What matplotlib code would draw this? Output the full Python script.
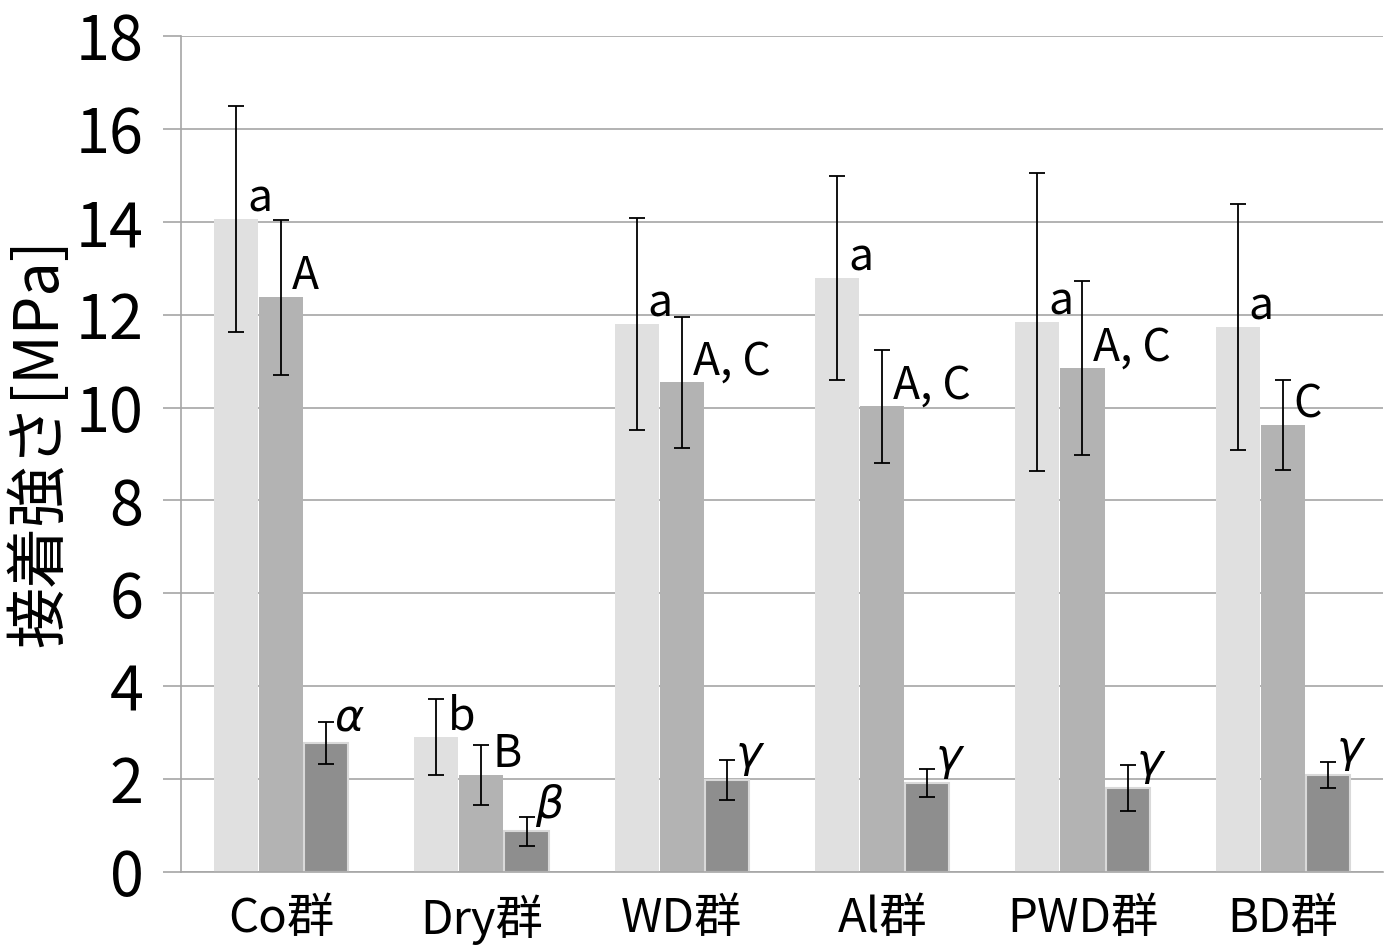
import matplotlib
matplotlib.use("Agg")
import matplotlib.pyplot as plt
import numpy as np

groups = ['Co群', 'Dry群', 'WD群', 'Al群', 'PWD群', 'BD群']
s1_vals = [14.06, 2.91, 11.80, 12.79, 11.84, 11.74]
s1_errs = [2.43, 0.82, 2.29, 2.20, 3.21, 2.65]
s2_vals = [12.38, 2.09, 10.55, 10.03, 10.85, 9.63]
s2_errs = [1.67, 0.65, 1.41, 1.22, 1.88, 0.97]
s3_vals = [2.78, 0.88, 1.98, 1.92, 1.81, 2.09]
s3_errs = [0.46, 0.31, 0.43, 0.30, 0.50, 0.28]
s1_labels = ['a', 'b', 'a', 'a', 'a', 'a']
s2_labels = ['A', 'B', 'A, C', 'A, C', 'A, C', 'C']
s3_labels = [r'$\alpha$', r'$\beta$', r'$\gamma$', r'$\gamma$', r'$\gamma$', r'$\gamma$']
yticks = [0, 2, 4, 6, 8, 10, 12, 14, 16, 18]
ylabel = '接着強さ[MPa]'

FAM = ['Noto Sans CJK JP', 'DejaVu Sans']
plt.rcParams['font.family'] = FAM
plt.rcParams['mathtext.fontset'] = 'dejavusans'

fig = plt.figure(figsize=(13.94, 9.49), dpi=100)
ax = fig.add_axes([0.1298, 0.0811, 0.8623, 0.8809])

x = np.arange(len(groups))
w = 0.22
colors = ['#e0e0e0', '#b3b3b3', '#8e8e8e']
series = [(s1_vals, s1_errs, s1_labels), (s2_vals, s2_errs, s2_labels), (s3_vals, s3_errs, s3_labels)]
offsets = [-0.225, 0.0, 0.225]
for i, ((vals, errs, labs), off) in enumerate(zip(series, offsets)):
    ec = '#d9d9d9' if i == 2 else 'none'
    ax.bar(x + off, vals, width=w, color=colors[i], edgecolor=ec, linewidth=1.5, zorder=2)
    ax.errorbar(x + off, vals, yerr=errs, fmt='none', ecolor='black', elinewidth=1.3,
                capsize=5.6, capthick=1.3, zorder=3)
    for xi, v, lab in zip(x + off, vals, labs):
        if i == 2:
            ax.text(xi + 0.04, v + 0.05, lab, fontsize=32, ha='left', va='bottom', zorder=4)
        else:
            ax.text(xi + 0.055, v - 0.05, lab, fontsize=32, ha='left', va='bottom', zorder=4)

ax.set_xlim(-0.5, len(groups) - 0.5)
ax.set_ylim(0, 18)
ax.set_yticks(yticks)
ax.set_yticklabels([str(t) for t in yticks], fontsize=44)
ax.set_xticks(x)
ax.set_xticklabels(groups, fontsize=34)
ax.yaxis.grid(True, color='#a6a6a6', linewidth=1.2, zorder=0)
ax.set_axisbelow(True)
for s in ['top', 'right']:
    ax.spines[s].set_visible(False)
ax.spines['left'].set_color('#a6a6a6')
ax.spines['bottom'].set_color('#a6a6a6')
ax.spines['left'].set_linewidth(1.2)
ax.spines['bottom'].set_linewidth(1.2)
ax.tick_params(axis='y', length=13, width=1.2, color='#a6a6a6', pad=14)
ax.tick_params(axis='x', length=0, pad=16)
ax.set_ylabel(ylabel, fontsize=44)
ax.yaxis.set_label_coords(-0.0915, 0.514)

fig.savefig('out.png', dpi=100)
